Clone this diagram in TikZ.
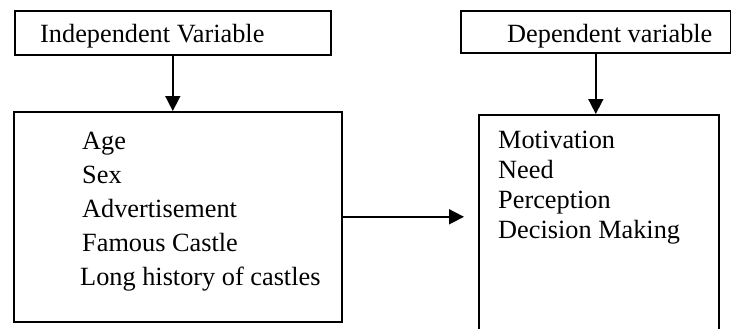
\documentclass[tikz,border=0pt]{standalone}
\usepackage{fontspec}
\setmainfont{Liberation Serif}
\usepackage{tikz}
\usetikzlibrary{arrows.meta}
\tikzstyle{Box}=[draw=black, line width=1.6pt, fill=none, shape=rectangle, inner sep=0pt, anchor=north west]
\tikzstyle{Label}=[text=black, inner sep=0pt, anchor=base west, font=\fontsize{26.3}{30}\selectfont]
\tikzstyle{arrow}=[line width=1.6pt, -{Triangle[width=15pt,length=15pt]}]

\begin{document}
\begin{tikzpicture}[x=1pt, y=-1pt]
	\useasboundingbox (0,0) rectangle (731,329);
	% boxes
	\node [style=Box, minimum width=316pt, minimum height=44pt] (ivhead) at (14, 10) {};
	\node [style=Box, minimum width=328pt, minimum height=210pt] (ivbox) at (13, 111) {};
	\node [style=Box, minimum width=270pt, minimum height=42pt] (dvhead) at (460, 10) {};
	\node [style=Box, minimum width=240pt, minimum height=235pt] (dvbox) at (478, 114) {};
	% labels
	\node [style=Label] (ivtitle) at (40, 43) {Independent Variable};
	\node [style=Label] (dvtitle) at (507, 43) {Dependent variable};
	\foreach \item [count=\i] in {Age, Sex, Advertisement, Famous Castle}
		\node [style=Label] (iv\i) at (82, 149+34*\i-34) {\item};
	\node [style=Label] (iv5) at (80, 285) {Long history of castles};
	\foreach \item [count=\i] in {Motivation, Need, Perception, Decision Making}
		\node [style=Label] (dv\i) at (498, 148+30*\i-30) {\item};
	% arrows
	\draw [style=arrow] (ivhead.south) -- (ivhead.south |- ivbox.north);
	\draw [style=arrow] (dvhead.south) -- (dvhead.south |- dvbox.north);
	\draw [style=arrow, shorten >=14pt] (ivbox.east) -- (ivbox.east -| dvbox.west);
\end{tikzpicture}
\end{document}
